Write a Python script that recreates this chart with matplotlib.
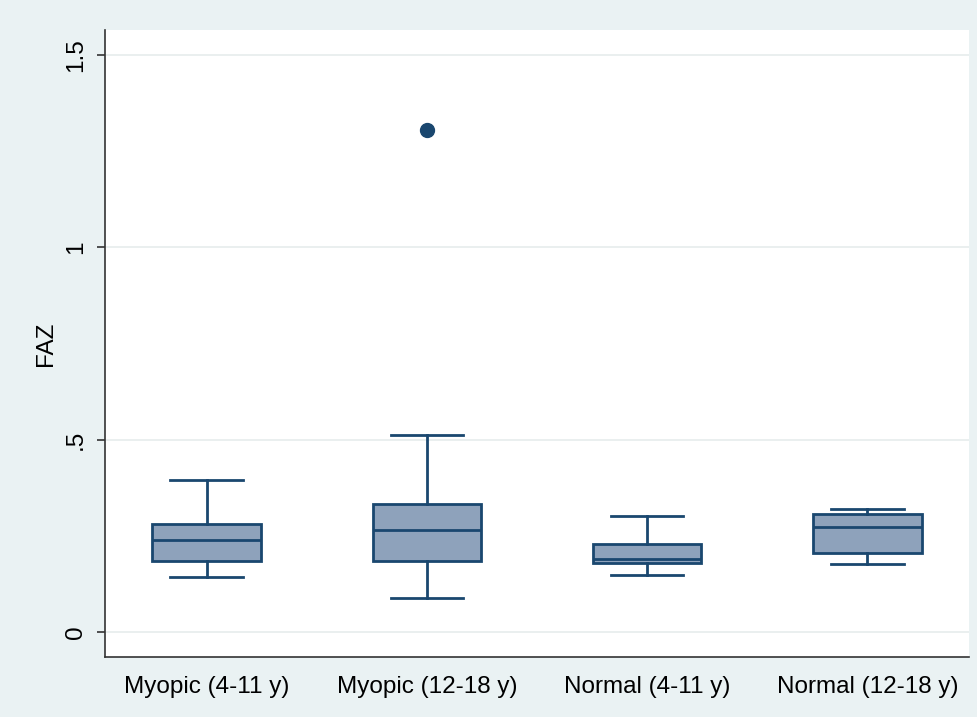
import matplotlib.pyplot as plt

plt.rcParams["font.family"] = ["Liberation Sans", "DejaVu Sans"]

groups = ["Myopic (4-11 y)", "Myopic (12-18 y)", "Normal (4-11 y)", "Normal (12-18 y)"]
whislo = [0.144, 0.089, 0.148, 0.177]
q1 = [0.184, 0.185, 0.180, 0.206]
med = [0.240, 0.265, 0.189, 0.273]
q3 = [0.282, 0.332, 0.230, 0.306]
whishi = [0.394, 0.511, 0.301, 0.321]
outliers = [[], [1.305], [], []]

navy = "#1a476f"
bg = "#eaf2f3"

stats = []
for i, g in enumerate(groups):
    stats.append(dict(label=g, whislo=whislo[i], q1=q1[i], med=med[i],
                      q3=q3[i], whishi=whishi[i], fliers=outliers[i]))

fig = plt.figure(figsize=(9.78, 7.17), dpi=100, facecolor=bg)
ax = fig.add_axes([0.1074, 0.0837, 0.8834, 0.8743])
ax.set_facecolor("white")

ax.bxp(stats, positions=[1, 2, 3, 4], widths=0.494, patch_artist=True,
       showfliers=True,
       boxprops=dict(facecolor="#8ea2bb", edgecolor=navy, linewidth=2),
       medianprops=dict(color=navy, linewidth=2),
       whiskerprops=dict(color=navy, linewidth=2),
       capprops=dict(color=navy, linewidth=2),
       capwidths=0.33,
       flierprops=dict(marker="o", markerfacecolor=navy, markeredgecolor=navy,
                       markersize=10))

ax.set_xlim(0.538, 4.462)
ax.set_ylim(-0.065, 1.565)
ax.set_yticks([0, 0.5, 1, 1.5])
ax.set_yticklabels(["0", ".5", "1", "1.5"], rotation=90, va="center", fontsize=17.5)
ax.tick_params(axis="x", labelsize=17.5, length=0, pad=14)
ax.tick_params(axis="y", length=6, width=1.2, color="#333333", pad=7)
ax.grid(axis="y", color="#e6ecec", linewidth=1.2)
ax.set_axisbelow(True)
ax.set_ylabel("FAZ", fontsize=17.5, labelpad=6)

for s in ["top", "right"]:
    ax.spines[s].set_visible(False)
for s in ["left", "bottom"]:
    ax.spines[s].set_color("#333333")
    ax.spines[s].set_linewidth(1.2)

fig.savefig("out.png", dpi=100, facecolor=bg)
